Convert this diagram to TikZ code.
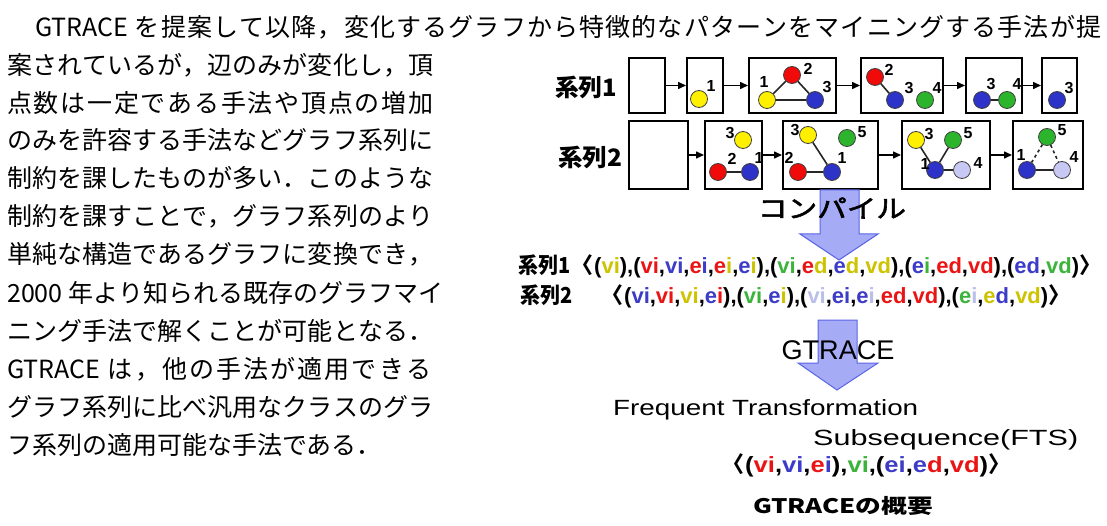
\documentclass[tikz,border=0pt]{standalone}
\usepackage{fontspec}
\usepackage{graphicx}
\setmainfont{Liberation Sans}
\newfontfamily\jp{Noto Sans CJK JP}
\newfontfamily\jpmed[FakeBold=2]{Noto Sans CJK JP}
\usetikzlibrary{arrows.meta}
\definecolor{vred}{RGB}{240,10,10}
\definecolor{vyel}{RGB}{255,240,0}
\definecolor{vblue}{RGB}{45,50,200}
\definecolor{vgreen}{RGB}{45,180,45}
\definecolor{vlav}{RGB}{200,200,245}
\definecolor{tred}{RGB}{235,20,20}
\definecolor{tblue}{RGB}{60,60,200}
\definecolor{tyel}{RGB}{205,195,0}
\definecolor{tgreen}{RGB}{60,180,60}
\definecolor{tlav}{RGB}{185,190,235}
\definecolor{arrowfill}{RGB}{165,172,245}
\definecolor{arrowline}{RGB}{90,100,230}
\newcommand\cR[1]{\textcolor{tred}{#1}}
\newcommand\cB[1]{\textcolor{tblue}{#1}}
\newcommand\cY[1]{\textcolor{tyel}{#1}}
\newcommand\cG[1]{\textcolor{tgreen}{#1}}
\newcommand\cL[1]{\textcolor{tlav}{#1}}
\newcommand\fitw[2]{\resizebox{#1}{\height}{#2}}
\newcommand\jpbody{\jp\fontsize{25}{25}\selectfont}
\def\jus#1{\ifx\relax#1\else#1\hskip0pt plus 1fil\expandafter\jus\fi}
\newcommand\jline[2]{\makebox[#1][s]{\jus #2\relax\unskip}}
\newcommand\seqf{\bfseries\fontsize{22}{22}\selectfont}
\newcommand\jpseq{\jp\bfseries\fontsize{22}{22}\selectfont}
\begin{document}
\begin{tikzpicture}[x=1pt,y=-1pt,
  body/.style={anchor=base west, inner sep=0, font=\jpbody},
  gbox/.style={draw=black, line width=2pt, inner sep=0, rectangle},
  conn/.style={-{Triangle[length=8pt,width=7pt]}, line width=1.5pt},
  vtx/.style={circle, draw=black!75, line width=0.8pt, minimum size=17pt, inner sep=0},
  gedge/.style={line width=1.6pt, draw=black!85},
  num/.style={inner sep=0, font=\bfseries\fontsize{16}{16}\selectfont},
  txt/.style={inner sep=0},
  bigarrow/.style={fill=arrowfill, draw=arrowline, line width=1pt}]
\useasboundingbox (0,0) rectangle (1107,526);

% ---------- body text ----------
\node[body] (l0) at (35,37) {\jline{1066pt}{{GTRACE\ }を提案して以降，変化するグラフから特徴的なパターンをマイニングする手法が提}};
\node[body] (l1) at (7,75) {\jline{426pt}{案されているが，辺のみが変化し，頂}};
\node[body] (l2) at (7,113) {\jline{426pt}{点数は一定である手法や頂点の増加}};
\node[body] (l3) at (7,150) {\jline{426pt}{のみを許容する手法などグラフ系列に}};
\node[body] (l4) at (7,188) {\jline{426pt}{制約を課したものが多い．このような}};
\node[body] (l5) at (7,226) {\jline{426pt}{制約を課すことで，グラフ系列のより}};
\node[body] (l6) at (7,264) {\jline{426pt}{単純な構造であるグラフに変換でき，}};
\node[body] (l7) at (7,302) {\jline{436pt}{{2000\ }年より知られる既存のグラフマイ}};
\node[body] (l8) at (7,340) {\jline{426pt}{ニング手法で解くことが可能となる．}};
\node[body] (l9) at (7,378) {\jline{424pt}{{GTRACE\ }は，他の手法が適用できる}};
\node[body] (l10) at (7,416) {\jline{426pt}{グラフ系列に比べ汎用なクラスのグラ}};
\node[body] (l11) at (7,454) {フ系列の適用可能な手法である．};

% ---------- row labels ----------
\node[txt, anchor=base west] (r1lab) at (555,97) {\fitw{62pt}{\jp\bfseries\fontsize{24}{24}\selectfont 系列1}};
\node[txt, anchor=base west] (r2lab) at (558,167) {\fitw{64pt}{\jp\bfseries\fontsize{24}{24}\selectfont 系列2}};

% ---------- row 1 boxes ----------
\node[gbox, minimum width=36pt, minimum height=55pt] (a1) at (647,85.5) {};
\node[gbox, minimum width=36pt, minimum height=55pt] (b1) at (705,85.5) {};
\node[gbox, minimum width=87pt, minimum height=55pt] (c1) at (792.5,85.5) {};
\node[gbox, minimum width=82pt, minimum height=55pt] (d1) at (902,85.5) {};
\node[gbox, minimum width=56pt, minimum height=55pt] (e1) at (994,85.5) {};
\node[gbox, minimum width=35pt, minimum height=55pt] (f1) at (1059.5,85.5) {};
\draw[conn] (a1) -- (b1);
\draw[conn] (b1) -- (c1);
\draw[conn] (c1) -- (d1);
\draw[conn] (d1) -- (e1);
\draw[conn] (e1) -- (f1);

% box b1
\node[vtx, fill=vyel] (b1y) at (699,99) {};
\node[num] (b1n1) at (711,86) {1};
% box c1
\node[vtx, fill=vyel] (c1y) at (767,100) {};
\node[vtx, fill=vred] (c1r) at (792,75) {};
\node[vtx, fill=vblue] (c1b) at (815,100) {};
\draw[gedge] (c1y) -- (c1r);
\draw[gedge] (c1r) -- (c1b);
\draw[gedge] (c1y) -- (c1b);
\node[num] (c1n1) at (764,82) {1};
\node[num] (c1n2) at (808,69) {2};
\node[num] (c1n3) at (827,87) {3};
% box d1
\node[vtx, fill=vred] (d1r) at (875,77) {};
\node[vtx, fill=vblue] (d1b) at (895,100) {};
\node[vtx, fill=vgreen] (d1g) at (925,100) {};
\draw[gedge] (d1r) -- (d1b);
\node[num] (d1n2) at (889,70) {2};
\node[num] (d1n3) at (909,88) {3};
\node[num] (d1n4) at (937,88) {4};
% box e1
\node[vtx, fill=vblue] (e1b) at (982,100) {};
\node[vtx, fill=vgreen] (e1g) at (1007,100) {};
\draw[gedge] (e1b) -- (e1g);
\node[num] (e1n3) at (991,84) {3};
\node[num] (e1n4) at (1017,84) {4};
% box f1
\node[vtx, fill=vblue] (f1b) at (1057,100) {};
\node[num] (f1n3) at (1069,88) {3};

% ---------- row 2 boxes ----------
\node[gbox, minimum width=59pt, minimum height=68pt] (a2) at (658.5,155) {};
\node[gbox, minimum width=57pt, minimum height=68pt] (b2) at (733.5,155) {};
\node[gbox, minimum width=95pt, minimum height=68pt] (c2) at (830.5,155) {};
\node[gbox, minimum width=88pt, minimum height=68pt] (d2) at (946,155) {};
\node[gbox, minimum width=70pt, minimum height=68pt] (e2) at (1048,155) {};
\draw[conn] (a2) -- (b2);
\draw[conn] (b2) -- (c2);
\draw[conn] (c2) -- (d2);
\draw[conn] (d2) -- (e2);

% box b2
\node[vtx, fill=vyel] (b2y) at (743,140) {};
\node[vtx, fill=vred] (b2r) at (718,172) {};
\node[vtx, fill=vblue] (b2b) at (750,172) {};
\draw[gedge] (b2r) -- (b2b);
\node[num] (b2n3) at (730,133) {3};
\node[num] (b2n2) at (732,159) {2};
\node[num] (b2n1) at (759,158) {1};
% box c2
\node[vtx, fill=vyel] (c2y) at (808,135) {};
\node[vtx, fill=vgreen] (c2g) at (847,138) {};
\node[vtx, fill=vred] (c2r) at (798,172) {};
\node[vtx, fill=vblue] (c2b) at (832,172) {};
\draw[gedge] (c2r) -- (c2b);
\draw[gedge] (c2y) -- (c2b);
\node[num] (c2n3) at (795,130) {3};
\node[num] (c2n5) at (862,132) {5};
\node[num] (c2n2) at (789,158) {2};
\node[num] (c2n1) at (842,158) {1};
% box d2
\node[vtx, fill=vyel] (d2y) at (916,140) {};
\node[vtx, fill=vgreen] (d2g) at (953,140) {};
\node[vtx, fill=vblue] (d2b) at (935,170) {};
\node[vtx, fill=vlav] (d2l) at (962,170) {};
\draw[gedge] (d2y) -- (d2b);
\draw[gedge] (d2g) -- (d2b);
\draw[gedge] (d2b) -- (d2l);
\node[num] (d2n3) at (929,134) {3};
\node[num] (d2n5) at (968,133) {5};
\node[num] (d2n1) at (925,164) {1};
\node[num] (d2n4) at (978,163) {4};
% box e2
\node[vtx, fill=vgreen] (e2g) at (1047,137) {};
\node[vtx, fill=vblue] (e2b) at (1027,170) {};
\node[vtx, fill=vlav] (e2l) at (1062,170) {};
\draw[gedge] (e2b) -- (e2l);
\draw[gedge, dashed] (e2g) -- (e2b);
\draw[gedge, dashed] (e2g) -- (e2l);
\node[num] (e2n5) at (1062,130) {5};
\node[num] (e2n1) at (1021,155) {1};
\node[num] (e2n4) at (1074,157) {4};

% ---------- big arrows ----------
\draw[bigarrow] (820,190) -- (859,190) -- (859,234) -- (878,234) -- (839,260) -- (800,234) -- (820,234) -- cycle;
\node[txt] (comp) at (832,208) {\fitw{148pt}{\jpmed\fontsize{25}{25}\selectfont コンパイル}};

% ---------- sequences ----------
\node[txt, anchor=base west] (s1lab) at (518,274) {\fitw{52pt}{\jpseq 系列1}};
\node[txt, anchor=base west] (s1) at (594,274) {\fitw{485pt}{\seqf (\cY{vi}),(\cR{vi},\cB{vi},\cR{e}\cB{i},\cR{e}\cY{i},\cB{e}\cY{i}),(\cG{vi},\cR{e}\cY{d},\cB{e}\cY{d},\cY{vd}),(\cB{e}\cG{i},\cR{ed},\cR{vd}),(\cB{ed},\cG{vd})}};
\node[txt, anchor=base east] (s1o) at (s1.base west) {\jpseq\kern-0.45em〈};
\node[txt, anchor=base west] (s1c) at (s1.base east) {\jpseq 〉\kern-0.45em};

\draw[bigarrow] (818,320) -- (857,320) -- (857,363) -- (878,363) -- (837,390) -- (798,363) -- (818,363) -- cycle;

\node[txt, anchor=base west] (s2lab) at (520,303) {\fitw{52pt}{\jpseq 系列2}};
\node[txt, anchor=base west] (s2) at (624,303) {\fitw{424pt}{\seqf (\cB{vi},\cR{vi},\cY{vi},\cB{e}\cR{i}),(\cG{vi},\cB{e}\cY{i}),(\cL{vi},\cB{ei},\cB{e}\cL{i},\cR{ed},\cR{vd}),(\cG{e}\cL{i},\cY{e}\cB{d},\cY{vd})}};
\node[txt, anchor=base east] (s2o) at (s2.base west) {\jpseq\kern-0.45em〈};
\node[txt, anchor=base west] (s2c) at (s2.base east) {\jpseq 〉\kern-0.45em};

\node[txt] (gt) at (838,350) {\fitw{113pt}{\fontsize{27}{27}\selectfont GTRACE}};

\node[txt, anchor=base west] (fts1) at (613,415) {\fitw{305pt}{\fontsize{22}{22}\selectfont Frequent Transformation}};
\node[txt, anchor=base west] (fts2) at (813,445) {\fitw{265pt}{\fontsize{22}{22}\selectfont Subsequence(FTS)}};
\node[txt, anchor=base west] (fts) at (745,472) {\fitw{243pt}{\seqf (\cR{vi},\cB{vi},\cR{e}\cB{i}),\cG{vi},(\cB{ei},\cB{e}\cR{d},\cR{vd})}};
\node[txt, anchor=base east] (ftso) at (fts.base west) {\jpseq\kern-0.45em〈};
\node[txt, anchor=base west] (ftsc) at (fts.base east) {\jpseq 〉\kern-0.45em};

\node[txt, anchor=base] (cap) at (843,513) {\fitw{180pt}{\jp\bfseries\fontsize{20}{20}\selectfont GTRACEの概要}};
\end{tikzpicture}
\end{document}
